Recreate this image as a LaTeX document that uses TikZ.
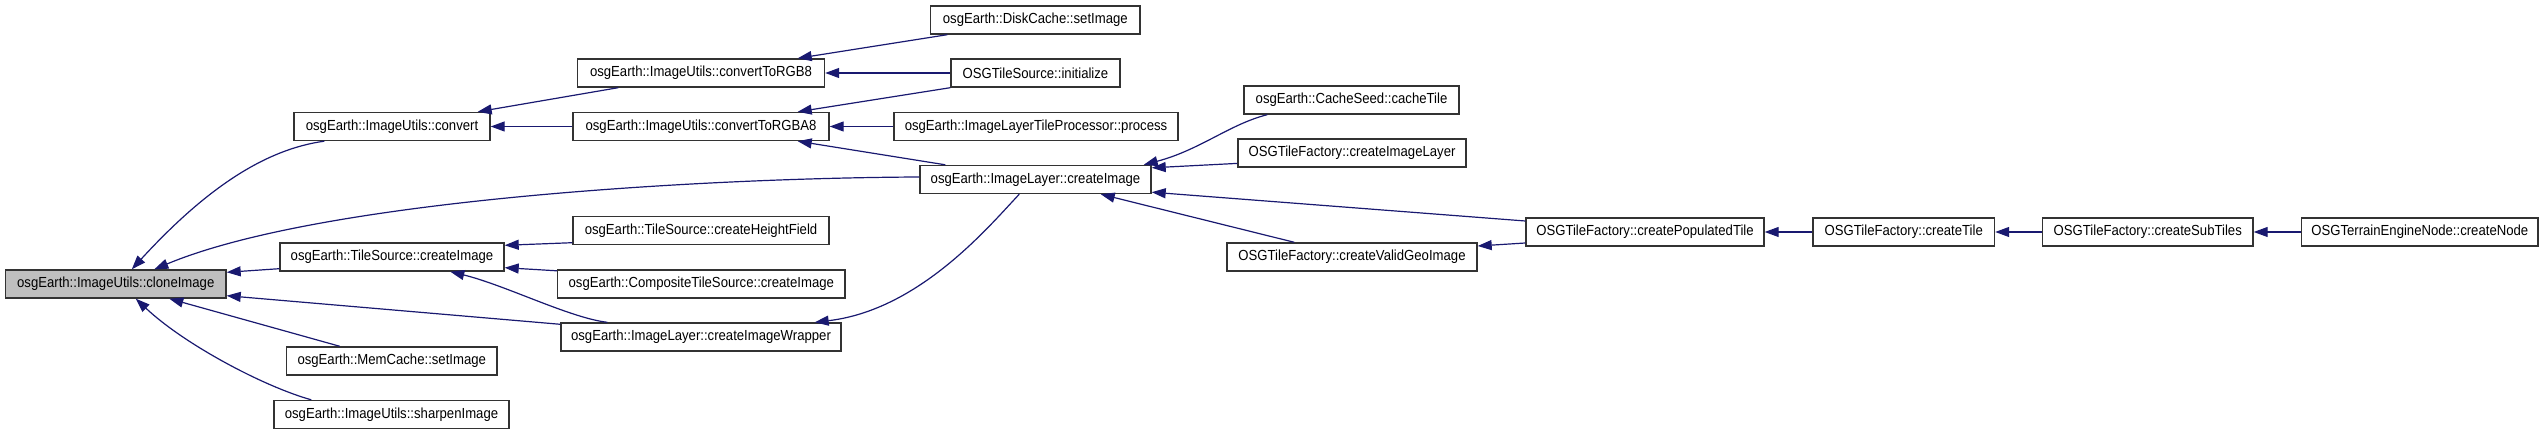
\documentclass[tikz,border=0pt]{standalone}
\usepackage{fontspec}
\setmainfont{Liberation Sans}[FakeStretch=0.9]
\usepackage{xcolor}
\usetikzlibrary{arrows.meta}
\definecolor{edgeblue}{RGB}{25,25,112}

\begin{document}
\begin{tikzpicture}[x=1pt, y=-1pt,
    block/.style={rectangle, draw=black!80, line width=1.4pt, fill=white, minimum height=28pt, inner sep=0pt, text centered, font=\fontsize{14.6}{16}\selectfont},
    focus/.style={block, fill=black!25},
    arrow/.style={-{Triangle[length=14pt, width=10pt]}, draw=edgeblue, line width=1.2pt}]
  \useasboundingbox (0,0) rectangle (2544,435);

  \node[focus, minimum width=220.5pt] (clone) at (115.75,284) {osgEarth::ImageUtils::cloneImage};
  \node[block, minimum width=196pt] (convert) at (392,126.5) {osgEarth::ImageUtils::convert};
  \node[block, minimum width=224pt] (tsCreateImage) at (392,257) {osgEarth::TileSource::createImage};
  \node[block, minimum width=210.5pt] (memSetImage) at (391.75,361) {osgEarth::MemCache::setImage};
  \node[block, minimum width=235pt] (sharpen) at (391.5,414.5) {osgEarth::ImageUtils::sharpenImage};

  \node[block, minimum width=247pt] (toRGB8) at (701,73) {osgEarth::ImageUtils::convertToRGB8};
  \node[block, minimum width=256pt] (toRGBA8) at (701,126.5) {osgEarth::ImageUtils::convertToRGBA8};
  \node[block, minimum width=256pt] (heightField) at (701,230.5) {osgEarth::TileSource::createHeightField};
  \node[block, minimum width=287.4pt] (composite) at (701.3,284) {osgEarth::CompositeTileSource::createImage};
  \node[block, minimum width=280pt] (wrapper) at (701,337) {osgEarth::ImageLayer::createImageWrapper};

  \node[block, minimum width=209.4pt] (diskSetImage) at (1035.3,20) {osgEarth::DiskCache::setImage};
  \node[block, minimum width=169pt] (tsInit) at (1035.5,73) {OSGTileSource::initialize};
  \node[block, minimum width=284pt] (process) at (1036,126.5) {osgEarth::ImageLayerTileProcessor::process};
  \node[block, minimum width=231pt] (layerCreateImage) at (1035.5,179.5) {osgEarth::ImageLayer::createImage};

  \node[block, minimum width=215pt] (cacheTile) at (1351.5,100) {osgEarth::CacheSeed::cacheTile};
  \node[block, minimum width=228pt] (imageLayer) at (1352,153) {OSGTileFactory::createImageLayer};
  \node[block, minimum width=250pt] (validGeo) at (1352,257) {OSGTileFactory::createValidGeoImage};

  \node[block, minimum width=238pt] (populated) at (1645,232) {OSGTileFactory::createPopulatedTile};
  \node[block, minimum width=181.5pt] (createTile) at (1903.75,232) {OSGTileFactory::createTile};
  \node[block, minimum width=210.5pt] (subTiles) at (2147.75,232) {OSGTileFactory::createSubTiles};
  \node[block, minimum width=236.5pt] (createNode) at (2419.75,232) {OSGTerrainEngineNode::createNode};

  \draw[arrow] ([xshift=31pt]convert.south west) .. controls (260,150) and (200,195) .. ([xshift=127pt]clone.north west);
  \draw[arrow] ([yshift=2.5pt]layerCreateImage.west) .. controls (700,178) and (320,200) .. ([xshift=149.5pt]clone.north west);
  \draw[arrow] ([yshift=3pt]tsCreateImage.south west) -- ([yshift=-3pt]clone.north east);
  \draw[arrow] ([yshift=-2pt]wrapper.north west) -- ([yshift=3pt]clone.south east);
  \draw[arrow] ([xshift=54pt]memSetImage.north west) -- ([xshift=164.5pt]clone.south west);
  \draw[arrow] ([xshift=38pt]sharpen.north west) .. controls (265,387) and (185,345) .. ([xshift=131pt]clone.south west);

  \draw[arrow] ([xshift=41.4pt]toRGB8.south west) -- ([xshift=-13pt]convert.north east);
  \draw[arrow] (toRGBA8.west) -- (convert.east);
  \draw[arrow] ([xshift=17.4pt]diskSetImage.south west) -- ([xshift=-27.5pt]toRGB8.north east);
  \draw[arrow] (tsInit.west) -- (toRGB8.east);
  \draw[arrow] (tsInit.south west) -- ([xshift=-32pt]toRGBA8.north east);
  \draw[arrow] (process.west) -- (toRGBA8.east);
  \draw[arrow] ([xshift=26pt]layerCreateImage.north west) -- ([xshift=-32pt]toRGBA8.south east);

  \draw[arrow] ([yshift=2.5pt]heightField.south west) -- ([yshift=-3pt]tsCreateImage.north east);
  \draw[arrow] ([yshift=-1.5pt]composite.north west) -- ([yshift=4pt]tsCreateImage.south east);
  \draw[arrow] ([xshift=47pt]wrapper.north west) .. controls (570,318) and (505,285) .. ([xshift=171pt]tsCreateImage.south west);
  \draw[arrow] ([xshift=100pt]layerCreateImage.south west) .. controls (990,225) and (920,310) .. ([xshift=-27pt]wrapper.north east);

  \draw[arrow] ([xshift=24pt]cacheTile.south west) .. controls (1230,124) and (1200,150) .. ([xshift=-8pt]layerCreateImage.north east);
  \draw[arrow] ([yshift=4.3pt]imageLayer.south west) -- ([yshift=-3pt]layerCreateImage.north east);
  \draw[arrow] ([yshift=-3.7pt]populated.north west) -- ([yshift=2pt]layerCreateImage.south east);
  \draw[arrow] ([xshift=68pt]validGeo.north west) -- ([xshift=-51pt]layerCreateImage.south east);
  \draw[arrow] ([yshift=3.7pt]populated.south west) -- ([yshift=-3.7pt]validGeo.north east);

  \draw[arrow] (createTile.west) -- (populated.east);
  \draw[arrow] (subTiles.west) -- (createTile.east);
  \draw[arrow] (createNode.west) -- (subTiles.east);
\end{tikzpicture}
\end{document}
